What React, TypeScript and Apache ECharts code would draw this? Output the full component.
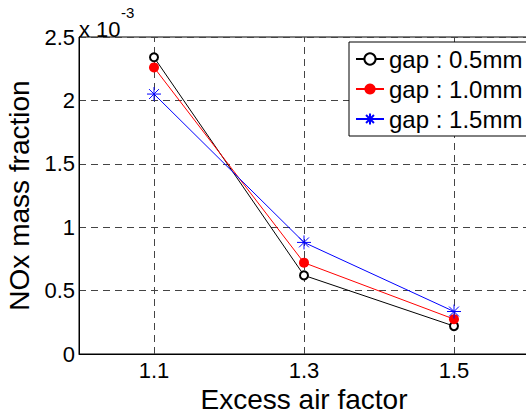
import React, { useEffect, useRef } from "react";
import * as echarts from "echarts";

const xTicks = [1.1, 1.3, 1.5];
const seriesNames = ["gap : 0.5mm", "gap : 1.0mm", "gap : 1.5mm"];
const gap05 = [2.34, 0.62, 0.22];
const gap10 = [2.26, 0.72, 0.275];
const gap15 = [2.05, 0.88, 0.335];

const FONT = "Liberation Sans";

export default function App() {
  const ref = useRef<HTMLDivElement>(null);
  useEffect(() => {
    document.body.style.margin = "0";
    const chart = echarts.init(ref.current!, null, { renderer: "svg" });
    const toPts = (arr: number[]) => arr.map((v, i) => [xTicks[i], v]);
    const asterisk =
      "path://M0,-10L0,10M-10,0L10,0M-7.07,-7.07L7.07,7.07M-7.07,7.07L7.07,-7.07";
    chart.setOption({
      animation: false,
      backgroundColor: "#fff",
      textStyle: { fontFamily: FONT },
      grid: {
        left: 79,
        top: 37,
        right: -3,
        bottom: 62,
        show: true,
        borderColor: "#000",
        borderWidth: 1,
        containLabel: false,
        outerBoundsMode: "none",
      },
      xAxis: {
        type: "value",
        min: 1.0,
        max: 1.6,
        interval: 0.1,
        name: "Excess air factor",
        nameLocation: "middle",
        nameGap: 27,
        nameTextStyle: { fontSize: 28, color: "#000", fontFamily: FONT, lineHeight: 28 },
        axisLine: { lineStyle: { color: "#000" } },
        axisTick: { show: false },
        splitLine: { show: false },
        axisLabel: {
          customValues: xTicks,
          fontSize: 22,
          color: "#000",
          margin: 5,
          fontFamily: FONT,
          formatter: (v: number) => v.toFixed(1),
        },
      },
      yAxis: {
        type: "value",
        min: 0,
        max: 2.5,
        interval: 0.5,
        name: "NOx mass fraction",
        nameLocation: "middle",
        nameGap: 44,
        nameTextStyle: { fontSize: 28, color: "#000", fontFamily: FONT },
        axisLine: { show: true, lineStyle: { color: "#000" } },
        axisTick: { show: false },
        axisLabel: {
          fontSize: 22,
          color: "#000",
          margin: 4,
          fontFamily: FONT,
          formatter: (v: number) => String(Math.round(v * 10) / 10),
        },
        splitLine: { show: true, lineStyle: { color: "#444", type: [7, 5], width: 1 } },
      },
      legend: {
        orient: "vertical",
        left: 349,
        top: 42,
        padding: [5, 5, 5, 6],
        itemGap: 6,
        itemWidth: 28,
        itemHeight: 14,
        itemTextGap: 5,
        backgroundColor: "#fff",
        borderColor: "#000",
        borderWidth: 1,
        textStyle: { fontSize: 24, color: "#000", fontFamily: FONT },
        data: seriesNames,
      },
      graphic: [
        { type: "text", x: 79, y: 18, style: { text: "x 10", font: `22px "${FONT}"`, fill: "#000" } },
        { type: "text", x: 121, y: 5, style: { text: "-3", font: `15px "${FONT}"`, fill: "#000" } },
      ],
      series: [
        {
          name: seriesNames[0],
          type: "line",
          data: toPts(gap05),
          symbol: "emptyCircle",
          symbolSize: 8,
          color: "#000",
          lineStyle: { color: "#000", width: 1 },
          itemStyle: { color: "#000", borderWidth: 1 },
          z: 3,
          markLine: {
            silent: true,
            symbol: "none",
            label: { show: false },
            lineStyle: { color: "#444", type: [7, 5], width: 1 },
            data: xTicks.map((x) => ({ xAxis: x })),
            z: 1,
          },
        },
        {
          name: seriesNames[1],
          type: "line",
          data: toPts(gap10),
          symbol: "circle",
          symbolSize: 10,
          color: "#ff0000",
          lineStyle: { color: "#ff0000", width: 1 },
          itemStyle: { color: "#ff0000" },
          z: 4,
        },
        {
          name: seriesNames[2],
          type: "line",
          data: toPts(gap15),
          symbol: asterisk,
          symbolSize: 14,
          color: "#0000ff",
          lineStyle: { color: "#0000ff", width: 1 },
          itemStyle: { color: "#0000ff", borderColor: "#0000ff", borderWidth: 1 },
          z: 5,
        },
      ],
    });
    return () => chart.dispose();
  }, []);
  return <div ref={ref} style={{ width: 526, height: 416 }} />;
}
